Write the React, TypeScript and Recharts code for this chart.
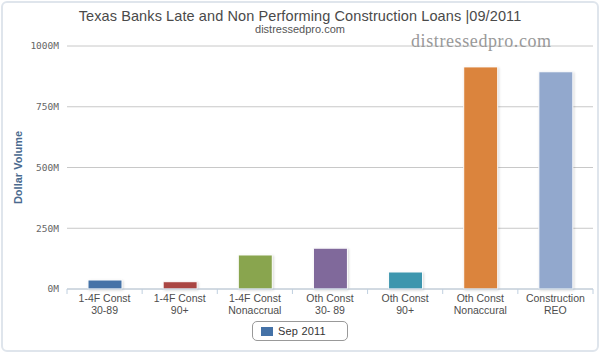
import { Bar, BarChart, CartesianGrid, Cell, XAxis, YAxis } from "recharts";

const CATEGORIES = [
  "1-4F Const\n30-89",
  "1-4F Const\n90+",
  "1-4F Const\nNonaccrual",
  "Oth Const\n30- 89",
  "Oth Const\n90+",
  "Oth Const\nNonaccural",
  "Construction\nREO",
];
const SEP_2011 = [37, 30, 140, 168, 70, 914, 894];
const Y_TICKS = [0, 250, 500, 750, 1000];
const COLORS = ["#4572A7", "#AA4643", "#89A54E", "#80699B", "#3D96AE", "#DB843D", "#92A8CD"];

const W = 600;
const H = 354;
const MARGIN = { top: 46, right: 7, bottom: 35, left: 0 };
const Y_WIDTH = 67;
const HALF_BAND = (W - MARGIN.right - MARGIN.left - Y_WIDTH) / CATEGORIES.length / 2;

const data = CATEGORIES.map((name, i) => ({ name, value: SEP_2011[i] }));

function CategoryTick(props: any) {
  const { x, y, payload, index } = props;
  const lines = String(payload.value).split("\n");
  return (
    <g>
      <line x1={x - HALF_BAND} x2={x - HALF_BAND} y1={y - 8} y2={y - 3} stroke="#C0D0E0" />
      {index === CATEGORIES.length - 1 && (
        <line x1={x + HALF_BAND} x2={x + HALF_BAND} y1={y - 8} y2={y - 3} stroke="#C0D0E0" />
      )}
      <text x={x} y={y} textAnchor="middle" fontSize={10.5} fill="#4d4d4d" fontFamily="'Liberation Sans', Arial, sans-serif">
        {lines.map((l, i) => (
          <tspan key={i} x={x} dy={i === 0 ? 5 : 12}>
            {l}
          </tspan>
        ))}
      </text>
    </g>
  );
}

export default function App() {
  return (
    <div style={{ position: "absolute", left: 0, top: 0, width: W, height: H, background: "#fff", overflow: "hidden" }}>
      <div
        style={{
          position: "absolute",
          left: 1,
          top: 1,
          width: 594,
          height: 347,
          border: "2px solid #dfe5ec",
          borderRadius: 6,
        }}
      />
      <div
        style={{
          position: "absolute",
          left: 0,
          width: W,
          top: 8,
          textAlign: "center",
          fontFamily: "'Liberation Sans', Arial, sans-serif",
          fontSize: 14.5,
          color: "#4a4a4a",
          letterSpacing: 0.1,
        }}
      >
        Texas Banks Late and Non Performing Construction Loans |09/2011
      </div>
      <div
        style={{
          position: "absolute",
          left: 0,
          width: W,
          top: 23,
          textAlign: "center",
          fontFamily: "'Liberation Sans', Arial, sans-serif",
          fontSize: 11,
          color: "#555",
        }}
      >
        distressedpro.com
      </div>
      <BarChart width={W} height={H} data={data} margin={MARGIN} style={{ position: "absolute", left: 0, top: 0 }}>
        <CartesianGrid vertical={false} stroke="#C8C8C8" />
        <XAxis
          dataKey="name"
          interval={0}
          height={30}
          axisLine={{ stroke: "#C0D0E0" }}
          tickLine={false}
          tick={<CategoryTick />}
        />
        <YAxis
          width={Y_WIDTH}
          domain={[0, 1000]}
          ticks={Y_TICKS}
          axisLine={false}
          tickLine={false}
          tickFormatter={(v: number) => `${v}M`}
          tick={{ fontSize: 9.5, fill: "#666", fontFamily: "'DejaVu Sans Mono', monospace" }}
          label={{
            value: "Dollar Volume",
            angle: -90,
            position: "insideLeft",
            offset: 18,
            style: { fontSize: 11, fontWeight: "bold", fill: "#4A6A8E", fontFamily: "'Liberation Sans', Arial, sans-serif", textAnchor: "middle" },
          }}
        />
        <Bar dataKey="value" barSize={34} isAnimationActive={false} stroke="#ffffff" strokeWidth={1}>
          {data.map((d, i) => (
            <Cell key={d.name} fill={COLORS[i]} style={{ filter: "drop-shadow(1px 1px 1px rgba(0,0,0,0.15))" }} />
          ))}
        </Bar>
      </BarChart>
      <div
        style={{
          position: "absolute",
          left: 411,
          top: 31,
          fontFamily: "'Liberation Serif', 'DejaVu Serif', serif",
          fontSize: 18,
          color: "#999",
          letterSpacing: 0.6,
        }}
      >
        distressedpro.com
      </div>
      <div
        style={{
          position: "absolute",
          left: 252,
          top: 321,
          width: 94,
          height: 18,
          border: "1px solid #999",
          borderRadius: 5,
          display: "flex",
          alignItems: "center",
          fontFamily: "'Liberation Sans', Arial, sans-serif",
          fontSize: 11,
          color: "#333",
          letterSpacing: 0.2,
        }}
      >
        <span style={{ display: "inline-block", width: 12, height: 9, background: COLORS[0], marginLeft: 8, marginRight: 5 }} />
        Sep 2011
      </div>
    </div>
  );
}
